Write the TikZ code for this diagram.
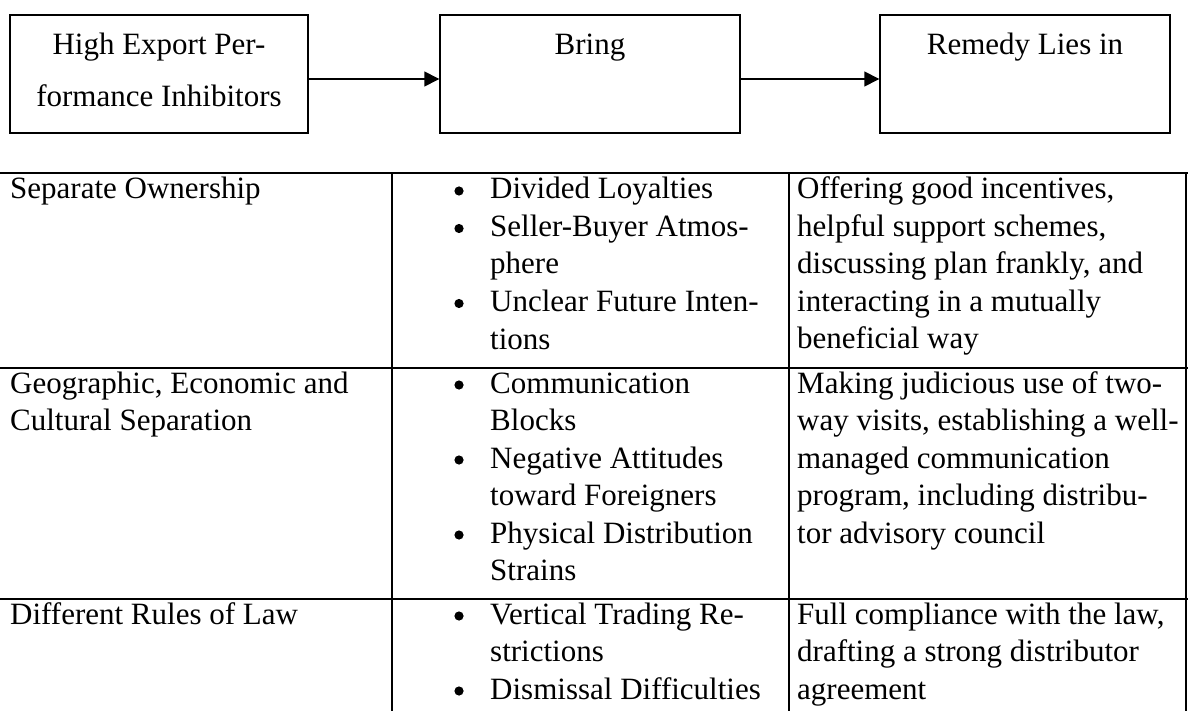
\documentclass[tikz,border=0pt]{standalone}
\usepackage{fontspec}
\setmainfont{Liberation Serif}
\usetikzlibrary{arrows.meta}
\tikzset{%
    flowbox/.style={%
        draw, line width=1.4pt, inner sep=0pt, minimum height=118pt
    },
    boxtext/.style={%
        anchor=base, inner sep=0pt, font=\fontsize{31}{52}\selectfont
    },
    celltext/.style={%
        anchor=base west, inner sep=0pt, font=\fontsize{31}{37.5}\selectfont
    },
    tableline/.style={line width=2.5pt}
}
\newcommand{\cellpar}[2]{\parbox[t]{#1}{\raggedright #2}}

\begin{document}
\begin{tikzpicture}[x=1pt,y=-1pt]
    \useasboundingbox (0,0) rectangle (1188,711);
    % flow row
    \node[flowbox, minimum width=298pt] (inhib) at (159,74) {};
    \node[flowbox, minimum width=300pt] (bring) at (590,74) {};
    \node[flowbox, minimum width=290pt] (remedy) at (1025,74) {};
    \node[boxtext] (inhibtext) at (159,55) {\parbox[t]{290pt}{\centering High Export Per-\\formance Inhibitors}};
    \node[boxtext] (bringtext) at (590,55) {Bring};
    \node[boxtext] (remedytext) at (1025,55) {Remedy Lies in};
    \draw[-{Triangle[length=15pt,width=15pt]}, line width=1.4pt] ([yshift=-5pt]inhib.east) -- ([yshift=-5pt]bring.west);
    \draw[-{Triangle[length=15pt,width=15pt]}, line width=1.4pt] ([yshift=-5pt]bring.east) -- ([yshift=-5pt]remedy.west);
    % table rules
    \draw[tableline] (0,173) -- (1188,173);
    \draw[tableline] (0,368) -- (1188,368);
    \draw[tableline] (0,599) -- (1188,599);
    \draw[tableline] (392,173) -- (392,711);
    \draw[tableline] (789,173) -- (789,711);
    \draw[tableline] (1186,173) -- (1186,711);
    % first column
    \node[celltext] (own) at (10,199) {Separate Ownership};
    \node[celltext] (geo) at (10,393) {\cellpar{375pt}{Geographic, Economic and\\Cultural Separation}};
    \node[celltext] (law) at (10,624) {Different Rules of Law};
    % second column
    \fill (459,191) circle (4.6pt);
    \fill (459,228.5) circle (4.6pt);
    \fill (459,303.5) circle (4.6pt);
    \fill (459,385) circle (4.6pt);
    \fill (459,460) circle (4.6pt);
    \fill (459,535) circle (4.6pt);
    \fill (459,616) circle (4.6pt);
    \fill (459,691) circle (4.6pt);
    \node[celltext] (loyal) at (490,199) {Divided Loyalties};
    \node[celltext] (seller) at (490,236.5) {\cellpar{290pt}{Seller-Buyer Atmos-\\phere}};
    \node[celltext] (future) at (490,311.5) {\cellpar{290pt}{Unclear Future Inten-\\tions}};
    \node[celltext] (blocks) at (490,393) {\cellpar{290pt}{Communication\\Blocks}};
    \node[celltext] (attitude) at (490,468) {\cellpar{290pt}{Negative Attitudes\\toward Foreigners}};
    \node[celltext] (strains) at (490,543) {\cellpar{290pt}{Physical Distribution\\Strains}};
    \node[celltext] (trading) at (490,624) {\cellpar{290pt}{Vertical Trading Re-\\strictions}};
    \node[celltext] (dismiss) at (490,699) {Dismissal Difficulties};
    % third column
    \node[celltext] (incent) at (797,199) {\cellpar{385pt}{Offering good incentives,\\helpful support schemes,\\discussing plan frankly, and\\interacting in a mutually\\beneficial way}};
    \node[celltext] (visits) at (797,393) {\cellpar{385pt}{Making judicious use of two-\\way visits, establishing a well-\\managed communication\\program, including distribu-\\tor advisory council}};
    \node[celltext] (comply) at (797,624) {\cellpar{385pt}{Full compliance with the law,\\drafting a strong distributor\\agreement}};
\end{tikzpicture}
\end{document}
